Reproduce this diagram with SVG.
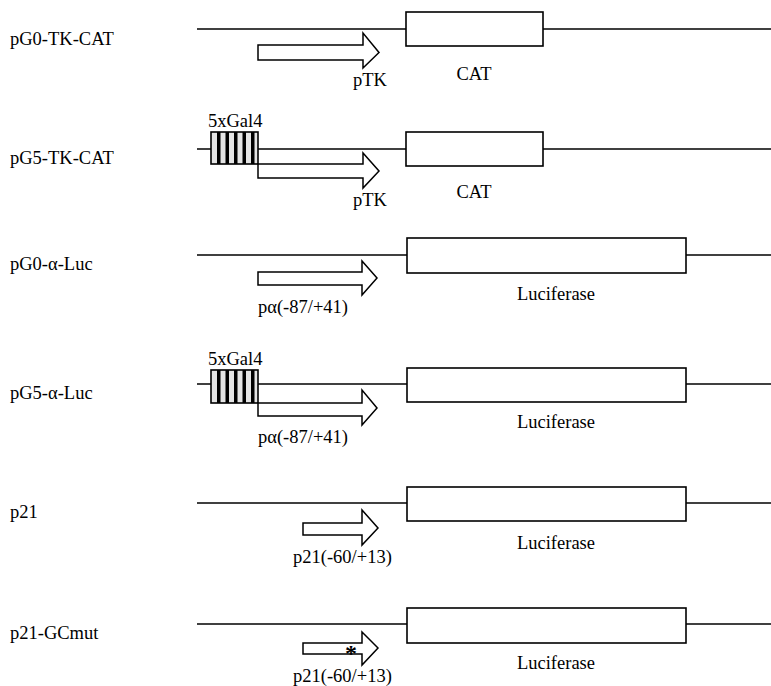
<svg xmlns="http://www.w3.org/2000/svg" width="771" height="686" viewBox="0 0 771 686">
<style>
text{font-family:"Liberation Serif","Times New Roman",serif;font-size:18.5px;fill:#000}
.ln{stroke:#000;stroke-width:1.6;fill:none}
.bx{stroke:#000;stroke-width:1.6;fill:#fff}
.ar{stroke:#000;stroke-width:1.5;fill:#fff;stroke-linejoin:miter}
.gal{stroke:#000;stroke-width:1.6;fill:#e4e4e4}
.st{fill:#000}
.mid{text-anchor:middle}
</style>
<rect width="771" height="686" fill="#fff"/>
<g id="connectors">
<line class="ln" x1="197" y1="29" x2="771" y2="29"/>
<line class="ln" x1="197" y1="149" x2="771" y2="149"/>
<line class="ln" x1="197" y1="255" x2="771" y2="255"/>
<line class="ln" x1="197" y1="384" x2="771" y2="384"/>
<line class="ln" x1="197" y1="503" x2="771" y2="503"/>
<line class="ln" x1="197" y1="624" x2="771" y2="624"/>
</g>
<g id="row1">
<text x="10" y="45">pG0-TK-CAT</text>
<rect class="bx" x="406" y="12" width="137" height="34"/>
<path class="ar" d="M258,45 L363,45 L363,33 L379,52.5 L363,68 L363,60 L258,60 Z"/>
<text class="mid" x="370" y="86">pTK</text>
<text class="mid" x="474" y="80">CAT</text>
</g>
<g id="row2">
<text x="10" y="164">pG5-TK-CAT</text>
<text x="208" y="127">5xGal4</text>
<rect class="gal" x="211" y="132" width="47" height="32"/>
<rect class="st" x="217" y="132" width="3.5" height="32"/>
<rect class="st" x="225.5" y="132" width="3.5" height="32"/>
<rect class="st" x="234" y="132" width="3.5" height="32"/>
<rect class="st" x="242.5" y="132" width="3.5" height="32"/>
<rect class="st" x="251" y="132" width="3.5" height="32"/>
<rect class="bx" x="406" y="132" width="137" height="34"/>
<path class="ar" d="M258,164 L363,164 L363,153 L379,171 L363,188 L363,178 L258,178 Z"/>
<text class="mid" x="370" y="206">pTK</text>
<text class="mid" x="474" y="198">CAT</text>
</g>
<g id="row3">
<text x="10" y="270">pG0-α-Luc</text>
<rect class="bx" x="407" y="238" width="279" height="35"/>
<path class="ar" d="M258,272 L362,272 L362,261 L377,278 L362,295 L362,285 L258,285 Z"/>
<text x="258" y="313">pα(-87/+41)</text>
<text class="mid" x="556" y="300">Luciferase</text>
</g>
<g id="row4">
<text x="10" y="399">pG5-α-Luc</text>
<text x="208" y="365">5xGal4</text>
<rect class="gal" x="211" y="370" width="47" height="33"/>
<rect class="st" x="217" y="370" width="3.5" height="33"/>
<rect class="st" x="225.5" y="370" width="3.5" height="33"/>
<rect class="st" x="234" y="370" width="3.5" height="33"/>
<rect class="st" x="242.5" y="370" width="3.5" height="33"/>
<rect class="st" x="251" y="370" width="3.5" height="33"/>
<rect class="bx" x="407" y="368" width="279" height="34"/>
<path class="ar" d="M258,403 L362,403 L362,390 L377,408 L362,425 L362,416 L258,416 Z"/>
<text x="258" y="443">pα(-87/+41)</text>
<text class="mid" x="556" y="428">Luciferase</text>
</g>
<g id="row5">
<text x="10" y="518">p21</text>
<rect class="bx" x="407" y="487" width="279" height="34"/>
<path class="ar" d="M303,523 L362,523 L362,510 L378,528 L362,545 L362,535 L303,535 Z"/>
<text x="293" y="563">p21(-60/+13)</text>
<text class="mid" x="556" y="549">Luciferase</text>
</g>
<g id="row6">
<text x="10" y="639">p21-GCmut</text>
<rect class="bx" x="407" y="608" width="279" height="35"/>
<path class="ar" d="M303,643 L362,643 L362,632 L378,648 L362,665 L362,654 L303,654 Z"/>
<text class="mid" x="351" y="661" style="font-weight:bold;font-size:24px">*</text>
<text x="293" y="682">p21(-60/+13)</text>
<text class="mid" x="556" y="669">Luciferase</text>
</g>
</svg>
